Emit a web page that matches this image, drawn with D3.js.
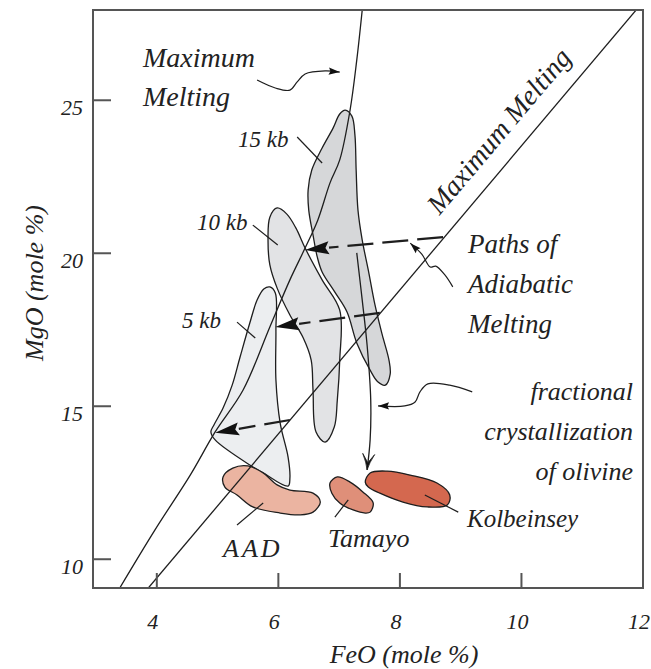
<!DOCTYPE html>
<html><head><meta charset="utf-8">
<script src="https://cdn.jsdelivr.net/npm/d3@7"></script>
<style>
html,body{margin:0;padding:0;background:#fff;}
svg{display:block;}
</style></head>
<body>
<svg id="chart" width="651" height="669" font-family="'Liberation Serif', 'DejaVu Serif', serif" font-style="italic"></svg>
<script>
// ---------- data (FeO, MgO in mole %) ----------
const xTicks = [4, 6, 8, 10, 12];
const yTicks = [10, 15, 20, 25];

const maxMeltCurve = [[7.38,27.95],[7.29,26.31],[7.18,24.68],[7.01,23.05],[6.85,22.30],[6.65,21.09],
  [6.44,20.17],[6.19,19.13],[5.86,17.59],[5.42,15.53],[4.96,14.16],[4.55,12.75],[3.97,10.96],[3.39,9.06]];
const maxMeltLine = [[3.86,9.06],[11.90,27.98]];

const kb15 = [[7.10,24.68],[7.21,24.48],[7.26,23.86],[7.28,22.72],[7.31,21.41],[7.38,20.43],[7.48,19.45],
  [7.59,18.31],[7.71,17.33],[7.82,16.51],[7.84,16.05],[7.76,15.69],[7.64,15.79],[7.51,16.18],[7.29,17.07],
  [7.13,18.08],[6.93,18.73],[6.72,19.39],[6.64,19.88],[6.57,20.60],[6.50,21.41],[6.49,22.07],[6.55,22.72],
  [6.72,23.44],[6.90,24.09],[7.01,24.55]];
const kb10 = [[5.98,21.48],[6.14,21.28],[6.29,20.82],[6.44,20.17],[6.72,19.13],[7.01,18.14],[7.01,16.51],
  [6.97,15.20],[6.92,14.32],[6.77,13.83],[6.62,14.16],[6.57,15.53],[6.54,16.51],[6.41,17.23],[6.19,17.98],
  [5.98,18.86],[5.86,19.62],[5.83,20.43],[5.86,21.18]];
const kb5 = [[5.86,18.90],[5.95,18.70],[5.96,17.49],[5.96,15.86],[6.03,14.45],[6.16,13.34],[6.19,12.65],
  [6.16,12.39],[5.73,12.85],[5.53,13.08],[4.96,13.90],[4.89,14.16],[4.94,14.39],[5.09,14.94],[5.24,15.69],
  [5.37,16.61],[5.53,17.72],[5.65,18.47],[5.76,18.83]];

const aad = [[5.09,12.69],[5.25,12.98],[5.50,13.05],[5.75,12.82],[5.98,12.43],[6.19,12.26],[6.57,12.16],
  [6.69,11.87],[6.57,11.54],[6.36,11.45],[6.03,11.51],[5.58,11.71],[5.32,12.10],[5.12,12.36]];
const tamayo = [[6.85,12.49],[6.97,12.69],[7.18,12.52],[7.39,12.20],[7.56,11.84],[7.51,11.54],[7.43,11.51],
  [7.23,11.61],[7.01,11.84],[6.88,12.16]];
const kolbeinsey = [[7.43,12.52],[7.51,12.82],[7.79,12.88],[8.17,12.75],[8.61,12.49],[8.82,12.10],[8.78,11.77],
  [8.45,11.71],[8.05,11.87],[7.67,12.16],[7.48,12.36]];

const adiabaticPaths = [
  [[8.71,20.53],[6.44,20.11]],
  [[7.67,18.05],[5.95,17.59]],
  [[6.19,14.55],[4.96,14.13]]
];
const fracCrystPath = [[7.29,20.01],[7.38,18.47],[7.46,17.00],[7.52,15.20],[7.51,13.90],[7.46,12.92]];

const pointerMaxMelt = [[5.65,25.66],[5.95,25.40],[6.19,25.33],[6.31,25.60],[6.44,25.86],[6.77,25.96],[7.01,25.92]];
const pointerPaths = [[8.87,18.90],[8.74,19.29],[8.59,19.58],[8.50,19.55],[8.36,19.97],[8.17,20.33]];
const pointerFrac = [[9.19,15.47],[8.82,15.69],[8.46,15.73],[8.33,15.47],[8.25,15.14],[8.08,15.01],[7.64,15.01]];

const leaders = [
  [[6.31,23.80],[6.72,22.95]],   // 15 kb
  [[5.58,20.92],[5.99,20.27]],   // 10 kb
  [[5.32,17.75],[5.62,17.23]],   // 5 kb
  [[5.32,11.12],[5.75,11.84]],   // AAD
  [[6.93,11.38],[7.15,11.94]],   // Tamayo
  [[8.96,11.54],[8.41,12.10]]    // Kolbeinsey
];

// ---------- layout ----------
const svg = d3.select("#chart");
const L = 93, R = 643, T = 10, B = 588;
const x = d3.scaleLinear().domain([2.95, 12]).range([L, R]);
const y = d3.scaleLinear().domain([9.06, 27.95]).range([B, T]);

svg.append("defs").append("clipPath").attr("id","clip")
  .append("rect").attr("x",L).attr("y",T).attr("width",R-L).attr("height",B-T);

const g = svg.append("g").attr("clip-path","url(#clip)");
const lineOpen = d3.line().x(d=>x(d[0])).y(d=>y(d[1])).curve(d3.curveCatmullRom.alpha(0.5));
const lineClosed = d3.line().x(d=>x(d[0])).y(d=>y(d[1])).curve(d3.curveCatmullRomClosed.alpha(0.5));
const lineStraight = d3.line().x(d=>x(d[0])).y(d=>y(d[1]));

const stroke = "#1e1e1e";
const textFill = "#222";

// grey fields
[[kb15,"#d6d7d9"],[kb10,"#e2e3e5"],[kb5,"#eceef0"]].forEach(([pts,fill])=>{
  g.append("path").attr("d",lineClosed(pts)).attr("fill",fill).attr("stroke",stroke).attr("stroke-width",1.3);
});
// red fields
[[aad,"#ebb4a1"],[tamayo,"#df8f79"],[kolbeinsey,"#d4684f"]].forEach(([pts,fill])=>{
  g.append("path").attr("d",lineClosed(pts)).attr("fill",fill).attr("stroke",stroke).attr("stroke-width",1.3);
});

// maximum melting lines
g.append("path").attr("d",lineOpen(maxMeltCurve)).attr("fill","none").attr("stroke",stroke).attr("stroke-width",1.3);
g.append("path").attr("d",lineStraight(maxMeltLine)).attr("fill","none").attr("stroke",stroke).attr("stroke-width",1.3);

// arrowhead helper (pixel space)
function headPts(tip, from, len, hw){
  const dx=tip[0]-from[0], dy=tip[1]-from[1], l=Math.hypot(dx,dy), ux=dx/l, uy=dy/l;
  const bx=tip[0]-ux*len, by=tip[1]-uy*len;
  return {pts:[[tip[0],tip[1]],[bx-uy*hw,by+ux*hw],[tip[0]-ux*len*0.85,tip[1]-uy*len*0.85],[bx+uy*hw,by-ux*hw]], base:[bx,by]};
}
const P = d => [x(d[0]), y(d[1])];

// adiabatic melting paths (dashed, filled heads)
adiabaticPaths.forEach(([a,b])=>{
  const pa=P(a), pb=P(b);
  const h=headPts(pb,pa,24,6.5);
  g.append("line").attr("x1",pa[0]).attr("y1",pa[1]).attr("x2",h.base[0]).attr("y2",h.base[1])
    .attr("stroke",stroke).attr("stroke-width",2.2).attr("stroke-dasharray","26,9");
  g.append("polygon").attr("points",h.pts.map(p=>p.join(",")).join(" ")).attr("fill","#111");
});

// fractional crystallization path with barbed head
g.append("path").attr("d",lineOpen(fracCrystPath)).attr("fill","none").attr("stroke",stroke).attr("stroke-width",1.3);
(function(){
  const n=fracCrystPath.length, tip=P(fracCrystPath[n-1]), prev=P(fracCrystPath[n-2]);
  const dx=tip[0]-prev[0], dy=tip[1]-prev[1], l=Math.hypot(dx,dy), ux=dx/l, uy=dy/l;
  const len=16, hw=6;
  const bx=tip[0]-ux*len, by=tip[1]-uy*len;
  const left=[bx-uy*hw, by+ux*hw], right=[bx+uy*hw, by-ux*hw];
  const mid=[tip[0]-ux*len*0.45, tip[1]-uy*len*0.45];
  g.append("path").attr("d",`M${left[0]},${left[1]} Q${mid[0]-uy*1.5},${mid[1]+ux*1.5} ${tip[0]},${tip[1]} Q${mid[0]+uy*1.5},${mid[1]-ux*1.5} ${right[0]},${right[1]} L${mid[0]},${mid[1]} Z`)
    .attr("fill","#111").attr("stroke",stroke).attr("stroke-width",0.8);
})();

// pointer curves with small heads
[pointerMaxMelt, pointerPaths, pointerFrac].forEach(pts=>{
  g.append("path").attr("d",lineOpen(pts)).attr("fill","none").attr("stroke",stroke).attr("stroke-width",1.2);
  const n=pts.length;
  const h=headPts(P(pts[n-1]),P(pts[n-2]),11,3.6);
  g.append("polygon").attr("points",h.pts.map(p=>p.join(",")).join(" ")).attr("fill","#111");
});

// label leaders
leaders.forEach(seg=>{
  g.append("path").attr("d",lineStraight(seg)).attr("fill","none").attr("stroke",stroke).attr("stroke-width",1.2);
});

// ---------- frame & axes ----------
const axisColor = "#555";
svg.append("rect").attr("x",L).attr("y",T).attr("width",R-L).attr("height",B-T)
  .attr("fill","none").attr("stroke",axisColor).attr("stroke-width",2);

yTicks.forEach(v=>{
  svg.append("line").attr("x1",L).attr("x2",L+18).attr("y1",y(v)).attr("y2",y(v)).attr("stroke",axisColor).attr("stroke-width",2);
  svg.append("text").attr("x",L-10).attr("y",y(v)+15).attr("text-anchor","end").attr("font-size",22).attr("fill",textFill).text(v);
});
xTicks.forEach(v=>{
  svg.append("line").attr("x1",x(v)).attr("x2",x(v)).attr("y1",B).attr("y2",B-15).attr("stroke",axisColor).attr("stroke-width",2);
  svg.append("text").attr("x",x(v)-4).attr("y",629).attr("text-anchor","middle").attr("font-size",22).attr("fill",textFill).text(v);
});

svg.append("text").attr("x",404).attr("y",663).attr("text-anchor","middle").attr("font-size",26).attr("fill",textFill).text("FeO (mole %)");
svg.append("text").attr("transform","translate(43,283) rotate(-90)").attr("text-anchor","middle").attr("font-size",26).attr("fill",textFill).text("MgO (mole %)");

// ---------- text labels ----------
const labels = [
  {t:"Maximum", x:143, y:67, s:28, a:"start"},
  {t:"Melting", x:143, y:106, s:28, a:"start"},
  {t:"15 kb", x:238, y:147, s:23, a:"start"},
  {t:"10 kb", x:197, y:230, s:23, a:"start"},
  {t:"5 kb", x:182, y:328, s:23, a:"start"},
  {t:"Paths of", x:468, y:253, s:27, a:"start"},
  {t:"Adiabatic", x:468, y:293, s:27, a:"start"},
  {t:"Melting", x:468, y:333, s:27, a:"start"},
  {t:"fractional", x:633, y:400, s:26, a:"end"},
  {t:"crystallization", x:633, y:440, s:26, a:"end"},
  {t:"of olivine", x:633, y:480, s:26, a:"end"},
  {t:"Kolbeinsey", x:467, y:527, s:25, a:"start"},
  {t:"Tamayo", x:328, y:547, s:26, a:"start"},
  {t:"AAD", x:223, y:557, s:26, a:"start", ls:3}
];
labels.forEach(l=>{
  const t=svg.append("text").attr("x",l.x).attr("y",l.y).attr("font-size",l.s).attr("text-anchor",l.a).attr("fill",textFill).text(l.t);
  if(l.ls) t.attr("letter-spacing",l.ls);
});

// rotated label along the straight maximum-melting line
(function(){
  const a=P(maxMeltLine[0]), b=P(maxMeltLine[1]);
  const ang=Math.atan2(b[1]-a[1], b[0]-a[0])*180/Math.PI;
  svg.append("text").attr("transform",`translate(506,137) rotate(${ang})`).attr("text-anchor","middle")
    .attr("font-size",28).attr("fill",textFill).text("Maximum Melting");
})();
</script>
</body></html>
